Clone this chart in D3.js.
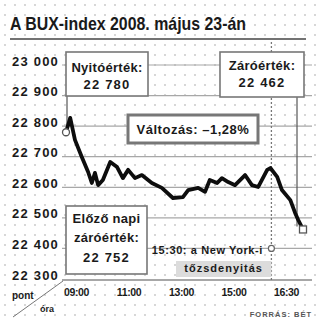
<!DOCTYPE html>
<html>
<head>
<meta charset="utf-8">
<script src="https://cdn.jsdelivr.net/npm/d3@7"></script>
<style>
  body { margin: 0; background: #fff; }
  text { font-family: "Liberation Sans Narrow", "Liberation Sans", Arial, sans-serif; font-weight: bold; fill: #1a1a1a; }
</style>
</head>
<body>
<div id="chart"></div>
<script>
// intraday BUX values
var times = ["09:00","09:08","09:17","09:30","09:42","09:49","09:55","10:01","10:10","10:24",
  "10:37","10:48","10:58","11:11","11:24","11:43","12:02","12:23","12:42","12:52",
  "13:11","13:24","13:33","13:47","13:56","14:08","14:21","14:40","14:53","15:05",
  "15:22","15:28","15:41","15:50","16:06","16:15","16:21","16:30"];
var values = [22780, 22827, 22755, 22699, 22650, 22614, 22647, 22607, 22624, 22683,
  22666, 22630, 22657, 22630, 22640, 22614, 22598, 22565, 22568, 22591,
  22598, 22585, 22624, 22614, 22630, 22617, 22607, 22640, 22607, 22601,
  22657, 22663, 22634, 22591, 22558, 22516, 22493, 22462];

var yTicks = [23000, 22900, 22800, 22700, 22600, 22500, 22400, 22300];
var xTickLabels = ["09:00", "11:00", "13:00", "15:00", "16:30"];

var openValue = 22780, prevClose = 22752, closeValue = 22462;
var changeText = "Változás: \u20131,28%";
var nyseTime = "15:30";

var width = 316, height = 323;

var svg = d3.select("#chart")
  .append("svg")
  .attr("width", width)
  .attr("height", height);

// halftone dots of the newspaper print
var defs = svg.append("defs");
defs.append("pattern")
  .attr("id", "dots")
  .attr("width", 10).attr("height", 10)
  .attr("patternUnits", "userSpaceOnUse")
  .append("circle")
  .attr("cx", 5).attr("cy", 5).attr("r", 0.9)
  .style("fill", "#c4c4c4");
svg.append("rect").attr("width", width).attr("height", height).style("fill", "#fff");
svg.append("rect").attr("width", width).attr("height", height).style("fill", "url(#dots)");

var parse = d3.timeParse("%H:%M");
var data = times.map(function(t, i) { return { t: parse(t), v: values[i] }; });

var x = d3.scaleTime()
  .domain([parse("09:00"), parse("16:30")])
  .range([66, 303]);

var y = d3.scaleLinear()
  .domain([22300, 23000])
  .range([279, 65]);

// the tick labels are set evenly under the plot
var xLab = d3.scalePoint()
  .domain(xTickLabels)
  .range([76, 286]);

var fmt = d3.formatLocale({ decimal: ",", thousands: " ", grouping: [3], currency: ["", ""] }).format(",");

// title
svg.append("text")
  .attr("x", 10)
  .attr("y", 30)
  .attr("textLength", 236)
  .attr("lengthAdjust", "spacingAndGlyphs")
  .style("font-size", "19px")
  .text("A BUX-index 2008. május 23-án");
svg.append("line")
  .attr("x1", 10).attr("x2", 306)
  .attr("y1", 39).attr("y2", 39)
  .style("stroke", "#444").style("stroke-width", 1.5);

// gridlines
svg.append("g")
  .selectAll("line")
  .data(yTicks.slice(0, -1))
  .enter()
  .append("line")
  .attr("x1", 62).attr("x2", 312)
  .attr("y1", function(d) { return y(d); })
  .attr("y2", function(d) { return y(d); })
  .style("stroke", "#a8a8a8")
  .style("stroke-width", 1.2);

// x axis line
svg.append("line")
  .attr("x1", 62).attr("x2", 312)
  .attr("y1", y(22300) + 1).attr("y2", y(22300) + 1)
  .style("stroke", "#8a8a8a").style("stroke-width", 1.5);

// y axis labels
var yAxis = svg.append("g")
  .attr("transform", "translate(59,0)")
  .call(d3.axisLeft(y).tickValues(yTicks).tickSize(0).tickPadding(0).tickFormat(fmt));
yAxis.select(".domain").remove();
yAxis.attr("font-family", null).attr("font-size", null);
yAxis.selectAll("text")
  .attr("dy", "0")
  .style("font-size", "13px")
  .style("letter-spacing", "1.2px");

// x axis labels
var xAxis = svg.append("g")
  .attr("transform", "translate(0,289)")
  .call(d3.axisBottom(xLab).tickSize(0).tickPadding(0));
xAxis.select(".domain").remove();
xAxis.attr("font-family", null).attr("font-size", null);
xAxis.selectAll("text")
  .style("font-size", "10.5px")
  .style("letter-spacing", "-0.4px");

// corner: pont / óra
svg.append("line")
  .attr("x1", 13).attr("y1", 317)
  .attr("x2", 63).attr("y2", 281)
  .style("stroke", "#777").style("stroke-width", 1);
svg.append("text").attr("x", 12).attr("y", 299).style("font-size", "10px").text("pont");
svg.append("text").attr("x", 40).attr("y", 312).style("font-size", "9px").text("óra");

// 15:30 New York opening marker
var xNy = x(parse(nyseTime));
svg.append("line")
  .attr("x1", xNy).attr("x2", xNy)
  .attr("y1", 42).attr("y2", 280)
  .style("stroke", "#777")
  .style("stroke-width", 1.3)
  .style("stroke-dasharray", "2,2");
svg.append("rect")
  .attr("x", 176).attr("y", 261)
  .attr("width", xNy - 176).attr("height", 16)
  .style("fill", "#dcdcdc");
svg.append("text")
  .attr("x", 263).attr("y", 254)
  .attr("text-anchor", "end")
  .style("font-size", "11px")
  .style("letter-spacing", "0.6px")
  .text("15:30: a New York-i");
svg.append("text")
  .attr("x", 263).attr("y", 272)
  .attr("text-anchor", "end")
  .style("font-size", "11px")
  .style("letter-spacing", "1px")
  .text("tőzsdenyitás");
svg.append("circle")
  .attr("cx", xNy).attr("cy", y(22400))
  .attr("r", 3)
  .style("fill", "#fff").style("stroke", "#666").style("stroke-width", 1.2);

// connectors from the boxes
var xStart = x(data[0].t), xEnd = x(data[data.length - 1].t);
svg.append("line")
  .attr("x1", xStart + 1).attr("x2", xStart + 1)
  .attr("y1", 96).attr("y2", y(openValue) - 3)
  .style("stroke", "#555").style("stroke-width", 1.2);
svg.append("line")
  .attr("x1", xEnd - 6).attr("x2", xEnd - 6)
  .attr("y1", 97).attr("y2", y(closeValue) - 3)
  .style("stroke", "#555").style("stroke-width", 1.2);

// the index line
svg.append("path")
  .datum(data)
  .attr("d", d3.line().x(function(d) { return x(d.t); }).y(function(d) { return y(d.v); }))
  .style("fill", "none")
  .style("stroke", "#0d0d0d")
  .style("stroke-width", 3.8)
  .style("stroke-linejoin", "round")
  .style("stroke-linecap", "round");

svg.append("circle")
  .attr("cx", xStart).attr("cy", y(openValue))
  .attr("r", 3.5)
  .style("fill", "#fff").style("stroke", "#555").style("stroke-width", 1.3);
svg.append("rect")
  .attr("x", xEnd - 3.5).attr("y", y(closeValue) - 3.5)
  .attr("width", 7).attr("height", 7)
  .style("fill", "#fff").style("stroke", "#555").style("stroke-width", 1.3);

// annotation boxes
function box(x0, y0, w, h, lines, sw) {
  var g = svg.append("g");
  g.append("rect")
    .attr("x", x0).attr("y", y0)
    .attr("width", w).attr("height", h)
    .style("fill", "#fff")
    .style("stroke", "#777")
    .style("stroke-width", sw || 1.6);
  lines.forEach(function(l) {
    g.append("text")
      .attr("x", x0 + w / 2)
      .attr("y", l.y)
      .attr("text-anchor", "middle")
      .style("font-size", "13px")
      .style("letter-spacing", l.ls + "px")
      .text(l.t);
  });
}

box(66, 52, 82, 44, [
  { t: "Nyitóérték:", y: 72, ls: 0.3 },
  { t: fmt(openValue), y: 89, ls: 1.2 }
]);
box(220, 52, 84, 45, [
  { t: "Záróérték:", y: 70, ls: 0.3 },
  { t: fmt(closeValue), y: 87, ls: 1.2 }
]);
box(128, 115, 130, 28, [
  { t: changeText, y: 134, ls: 0.5 }
], 3);
box(66, 206, 81, 68, [
  { t: "Előző napi", y: 223, ls: 0.3 },
  { t: "záróérték:", y: 242, ls: 0.3 },
  { t: fmt(prevClose), y: 262, ls: 1.2 }
]);

// source
svg.append("text")
  .attr("x", 312).attr("y", 317)
  .attr("text-anchor", "end")
  .style("font-size", "7.5px")
  .style("letter-spacing", "1px")
  .style("fill", "#555")
  .text("FORRÁS: BÉT");
</script>
</body>
</html>
